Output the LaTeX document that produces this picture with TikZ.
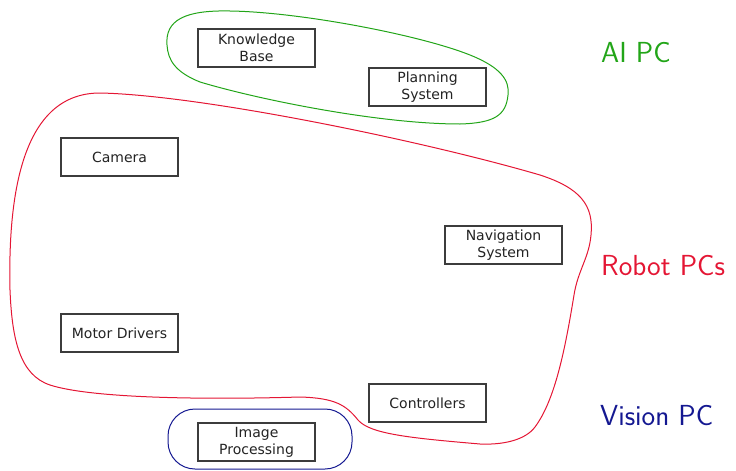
\documentclass[tikz,border=0pt]{standalone}
\usepackage{fontspec}
\newfontfamily\boxfont{DejaVu Sans}
\definecolor{aigreen}{RGB}{34,165,24}
\definecolor{robred}{RGB}{228,22,52}
\definecolor{visblue}{RGB}{20,24,145}
\definecolor{boxline}{RGB}{60,60,60}
\definecolor{boxtext}{RGB}{35,35,35}
\tikzset{
  compbox/.style={draw=boxline, line width=1.1pt, fill=white, text=boxtext,
    minimum width=117pt, minimum height=38pt, inner sep=0pt, align=center,
    font=\boxfont\fontsize{14}{17}\selectfont},
  grouplabel/.style={anchor=base west, inner sep=0pt, font=\sffamily\fontsize{29}{35}\selectfont},
  groupline/.style={line width=1pt}
}
\begin{document}
\begin{tikzpicture}[x=1pt,y=-1pt]
\useasboundingbox (0,0) rectangle (736,471);
% groups
\draw[groupline, robred] (10,290)
  .. controls (8,200) and (20,93) .. (100,93)
  .. controls (200,95) and (420,140) .. (540,175)
  .. controls (580,188) and (594,205) .. (591,235)
  .. controls (589,258) and (578,270) .. (574,295)
  .. controls (565,350) and (555,400) .. (535,427)
  .. controls (525,440.5) and (502,445) .. (480,444)
  .. controls (410,438) and (370,434) .. (358,420)
  .. controls (346,405) and (335,398) .. (300,397)
  .. controls (200,400) and (90,398) .. (50,385)
  .. controls (20,375) and (12,340) .. (10,290) -- cycle;
\draw[groupline, aigreen] (167,45)
  .. controls (165,20) and (185,10) .. (230,11)
  .. controls (300,12) and (420,35) .. (470,55)
  .. controls (500,67) and (510,80) .. (508,95)
  .. controls (506,115) and (495,123) .. (460,124)
  .. controls (380,124) and (260,100) .. (200,82)
  .. controls (175,72) and (168,60) .. (167,45) -- cycle;
\draw[groupline, visblue, rounded corners=27pt] (168,409) rectangle (352,469);
% components
\node[compbox] (kb)   at (256.5,48)  {Knowledge\\Base};
\node[compbox] (plan) at (427.5,87)  {Planning\\System};
\node[compbox] (cam)  at (119.5,157) {Camera};
\node[compbox] (nav)  at (503.5,245) {Navigation\\System};
\node[compbox] (mot)  at (119.5,333) {Motor Drivers};
\node[compbox] (ctl)  at (427.5,403) {Controllers};
\node[compbox] (img)  at (256.5,442) {Image\\Processing};
% labels
\node[grouplabel, text=aigreen] (lai) at (601,62) {AI PC};
\node[grouplabel, text=robred] (lrob) at (601,275) {Robot PCs};
\node[grouplabel, text=visblue] (lvis) at (600,425) {Vision PC};
\end{tikzpicture}
\end{document}
